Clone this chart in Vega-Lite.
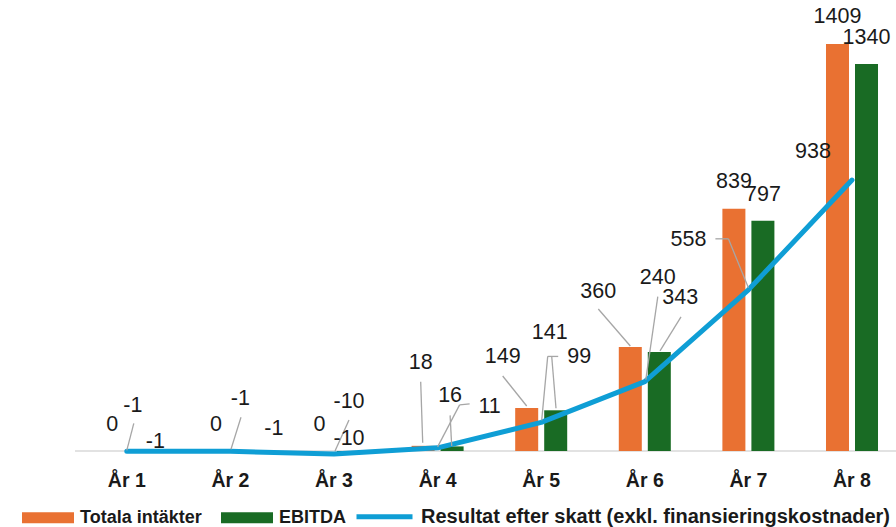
{
"$schema": "https://vega.github.io/schema/vega-lite/v6.json",
"autosize": "none",
"width": 821,
"height": 439.1,
"padding": {"left": 75, "top": 17.7, "right": 0, "bottom": 70.2},
"background": "white",
"config": {"view": {"stroke": null}, "font": "Liberation Sans"},
"datasets": {"d": [
{"year": "År 1", "serie": "Totala intäkter", "k": "T", "value": 0},
{"year": "År 1", "serie": "EBITDA", "k": "E", "value": -1},
{"year": "År 1", "serie": "Resultat efter skatt (exkl. finansieringskostnader)", "k": "R", "value": -1},
{"year": "År 2", "serie": "Totala intäkter", "k": "T", "value": 0},
{"year": "År 2", "serie": "EBITDA", "k": "E", "value": -1},
{"year": "År 2", "serie": "Resultat efter skatt (exkl. finansieringskostnader)", "k": "R", "value": -1},
{"year": "År 3", "serie": "Totala intäkter", "k": "T", "value": 0},
{"year": "År 3", "serie": "EBITDA", "k": "E", "value": -10},
{"year": "År 3", "serie": "Resultat efter skatt (exkl. finansieringskostnader)", "k": "R", "value": -10},
{"year": "År 4", "serie": "Totala intäkter", "k": "T", "value": 18},
{"year": "År 4", "serie": "EBITDA", "k": "E", "value": 16},
{"year": "År 4", "serie": "Resultat efter skatt (exkl. finansieringskostnader)", "k": "R", "value": 11},
{"year": "År 5", "serie": "Totala intäkter", "k": "T", "value": 149},
{"year": "År 5", "serie": "EBITDA", "k": "E", "value": 141},
{"year": "År 5", "serie": "Resultat efter skatt (exkl. finansieringskostnader)", "k": "R", "value": 99},
{"year": "År 6", "serie": "Totala intäkter", "k": "T", "value": 360},
{"year": "År 6", "serie": "EBITDA", "k": "E", "value": 343},
{"year": "År 6", "serie": "Resultat efter skatt (exkl. finansieringskostnader)", "k": "R", "value": 240},
{"year": "År 7", "serie": "Totala intäkter", "k": "T", "value": 839},
{"year": "År 7", "serie": "EBITDA", "k": "E", "value": 797},
{"year": "År 7", "serie": "Resultat efter skatt (exkl. finansieringskostnader)", "k": "R", "value": 558},
{"year": "År 8", "serie": "Totala intäkter", "k": "T", "value": 1409},
{"year": "År 8", "serie": "EBITDA", "k": "E", "value": 1340},
{"year": "År 8", "serie": "Resultat efter skatt (exkl. finansieringskostnader)", "k": "R", "value": 938}
]},
"data": {"name": "d"},
"layer": [
{"data": {"values": [{}]}, "mark": {"type": "rule", "color": "#d9d9d9", "strokeWidth": 1.5}, "encoding": {"y": {"datum": 0, "type": "quantitative", "scale": {"domain": [-20, 1500], "nice": false, "zero": false}, "axis": null}}},
{"transform": [{"filter": "datum.k!='R'"}], "mark": {"type": "bar"},
 "encoding": {
  "x": {"field": "year", "type": "ordinal", "title": null,
        "scale": {"type": "band", "range": [0, 828.8], "paddingInner": 0.44, "paddingOuter": 0.22},
        "axis": {"domain": false, "ticks": false, "tickSize": 0, "grid": false, "labelAngle": 0, "labelFont": "Liberation Sans", "labelFontWeight": "bold", "labelFontSize": 19.5, "labelColor": "#1a1a1a", "labelBaseline": "alphabetic", "labelPadding": 30}},
  "xOffset": {"field": "serie", "type": "nominal", "sort": ["Totala intäkter", "EBITDA"], "scale": {"paddingInner": 0.207, "paddingOuter": 0.1035}},
  "y": {"field": "value", "type": "quantitative", "scale": {"domain": [-20, 1500], "nice": false, "zero": false}, "axis": null},
  "color": {"field": "serie", "type": "nominal", "sort": ["Totala intäkter", "EBITDA"],
            "scale": {"domain": ["Totala intäkter", "EBITDA"], "range": ["#E97132", "#196B24"]},
            "legend": {"title": null, "orient": "none", "legendX": -53, "legendY": 474, "direction": "horizontal", "symbolType": "M-1,-0.21H1V0.21H-1Z", "symbolSize": 2704, "symbolStrokeWidth": 0, "labelFont": "Liberation Sans", "labelFontWeight": "bold", "labelFontSize": 18, "labelColor": "#1a1a1a", "labelOffset": 6, "columnPadding": 19, "padding": 0, "labelLimit": 1000}}
 }},
{"transform": [{"filter": "datum.k=='R'"}], "mark": {"type": "line", "strokeWidth": 5, "strokeCap": "round", "strokeJoin": "round"},
 "encoding": {
  "x": {"field": "year", "type": "ordinal", "bandPosition": 0.5},
  "y": {"field": "value", "type": "quantitative"},
  "stroke": {"field": "serie", "type": "nominal", "scale": {"range": ["#0F9ED5"]},
             "legend": {"title": null, "orient": "none", "legendX": 279, "legendY": 468.5, "symbolType": "stroke", "symbolSize": 3136, "symbolStrokeWidth": 5, "labelFont": "Liberation Sans", "labelFontWeight": "bold", "labelFontSize": 20, "labelColor": "#1a1a1a", "labelOffset": 6, "padding": 0, "labelLimit": 1000}}
 }},
{"transform": [{"filter": "datum.k=='R'&&datum.year=='År 1'"}], "mark": {"type": "rule", "color": "#a6a6a6", "strokeWidth": 1.3, "xOffset": 0, "yOffset": -1, "x2Offset": 7, "y2Offset": -28}, "encoding": {"x": {"field": "year", "type": "ordinal", "bandPosition": 0.5}, "x2": {"field": "year", "bandPosition": 0.5}, "y": {"field": "value", "type": "quantitative"}, "y2": {"field": "value"}}},
{"transform": [{"filter": "datum.k=='R'&&datum.year=='År 2'"}], "mark": {"type": "rule", "color": "#a6a6a6", "strokeWidth": 1.3, "xOffset": 0.6, "yOffset": -2, "x2Offset": 10.6, "y2Offset": -34}, "encoding": {"x": {"field": "year", "type": "ordinal", "bandPosition": 0.5}, "x2": {"field": "year", "bandPosition": 0.5}, "y": {"field": "value", "type": "quantitative"}, "y2": {"field": "value"}}},
{"transform": [{"filter": "datum.k=='R'&&datum.year=='År 3'"}], "mark": {"type": "rule", "color": "#a6a6a6", "strokeWidth": 1.3, "xOffset": 1, "yOffset": -3, "x2Offset": 15, "y2Offset": -34}, "encoding": {"x": {"field": "year", "type": "ordinal", "bandPosition": 0.5}, "x2": {"field": "year", "bandPosition": 0.5}, "y": {"field": "value", "type": "quantitative"}, "y2": {"field": "value"}}},
{"transform": [{"filter": "datum.k=='R'&&datum.year=='År 4'"}], "mark": {"type": "rule", "color": "#a6a6a6", "strokeWidth": 1.3, "xOffset": 0, "yOffset": -1, "x2Offset": 22, "y2Offset": -43}, "encoding": {"x": {"field": "year", "type": "ordinal", "bandPosition": 0.5}, "x2": {"field": "year", "bandPosition": 0.5}, "y": {"field": "value", "type": "quantitative"}, "y2": {"field": "value"}}},
{"transform": [{"filter": "datum.k=='R'&&datum.year=='År 4'"}], "mark": {"type": "rule", "color": "#a6a6a6", "strokeWidth": 1.3, "xOffset": 22, "yOffset": -43, "x2Offset": 32, "y2Offset": -44}, "encoding": {"x": {"field": "year", "type": "ordinal", "bandPosition": 0.5}, "x2": {"field": "year", "bandPosition": 0.5}, "y": {"field": "value", "type": "quantitative"}, "y2": {"field": "value"}}},
{"transform": [{"filter": "datum.k=='R'&&datum.year=='År 5'"}], "mark": {"type": "rule", "color": "#a6a6a6", "strokeWidth": 1.3, "xOffset": 0.5, "yOffset": -2, "x2Offset": 6.5, "y2Offset": -66}, "encoding": {"x": {"field": "year", "type": "ordinal", "bandPosition": 0.5}, "x2": {"field": "year", "bandPosition": 0.5}, "y": {"field": "value", "type": "quantitative"}, "y2": {"field": "value"}}},
{"transform": [{"filter": "datum.k=='R'&&datum.year=='År 5'"}], "mark": {"type": "rule", "color": "#a6a6a6", "strokeWidth": 1.3, "xOffset": 6.5, "yOffset": -66, "x2Offset": 17, "y2Offset": -66}, "encoding": {"x": {"field": "year", "type": "ordinal", "bandPosition": 0.5}, "x2": {"field": "year", "bandPosition": 0.5}, "y": {"field": "value", "type": "quantitative"}, "y2": {"field": "value"}}},
{"transform": [{"filter": "datum.k=='R'&&datum.year=='År 6'"}], "mark": {"type": "rule", "color": "#a6a6a6", "strokeWidth": 1.3, "xOffset": 1, "yOffset": -2, "x2Offset": 13, "y2Offset": -85}, "encoding": {"x": {"field": "year", "type": "ordinal", "bandPosition": 0.5}, "x2": {"field": "year", "bandPosition": 0.5}, "y": {"field": "value", "type": "quantitative"}, "y2": {"field": "value"}}},
{"transform": [{"filter": "datum.k=='R'&&datum.year=='År 7'"}], "mark": {"type": "rule", "color": "#a6a6a6", "strokeWidth": 1.3, "xOffset": 0, "yOffset": -2, "x2Offset": -20, "y2Offset": -51}, "encoding": {"x": {"field": "year", "type": "ordinal", "bandPosition": 0.5}, "x2": {"field": "year", "bandPosition": 0.5}, "y": {"field": "value", "type": "quantitative"}, "y2": {"field": "value"}}},
{"transform": [{"filter": "datum.k=='R'&&datum.year=='År 7'"}], "mark": {"type": "rule", "color": "#a6a6a6", "strokeWidth": 1.3, "xOffset": -20, "yOffset": -51, "x2Offset": -33, "y2Offset": -51}, "encoding": {"x": {"field": "year", "type": "ordinal", "bandPosition": 0.5}, "x2": {"field": "year", "bandPosition": 0.5}, "y": {"field": "value", "type": "quantitative"}, "y2": {"field": "value"}}},
{"transform": [{"filter": "datum.k=='T'&&datum.year=='År 4'"}], "mark": {"type": "rule", "color": "#a6a6a6", "strokeWidth": 1.3, "xOffset": -14.9, "yOffset": -3, "x2Offset": -16.9, "y2Offset": -64}, "encoding": {"x": {"field": "year", "type": "ordinal", "bandPosition": 0.5}, "x2": {"field": "year", "bandPosition": 0.5}, "y": {"field": "value", "type": "quantitative"}, "y2": {"field": "value"}}},
{"transform": [{"filter": "datum.k=='T'&&datum.year=='År 5'"}], "mark": {"type": "rule", "color": "#a6a6a6", "strokeWidth": 1.3, "xOffset": -38.5, "yOffset": -32, "x2Offset": -14.5, "y2Offset": -2}, "encoding": {"x": {"field": "year", "type": "ordinal", "bandPosition": 0.5}, "x2": {"field": "year", "bandPosition": 0.5}, "y": {"field": "value", "type": "quantitative"}, "y2": {"field": "value"}}},
{"transform": [{"filter": "datum.k=='T'&&datum.year=='År 6'"}], "mark": {"type": "rule", "color": "#a6a6a6", "strokeWidth": 1.3, "xOffset": -46.5, "yOffset": -38, "x2Offset": -14.5, "y2Offset": -1}, "encoding": {"x": {"field": "year", "type": "ordinal", "bandPosition": 0.5}, "x2": {"field": "year", "bandPosition": 0.5}, "y": {"field": "value", "type": "quantitative"}, "y2": {"field": "value"}}},
{"transform": [{"filter": "datum.k=='E'&&datum.year=='År 4'"}], "mark": {"type": "rule", "color": "#a6a6a6", "strokeWidth": 1.3, "xOffset": 14.1, "yOffset": -0.4, "x2Offset": 12.5, "y2Offset": -31}, "encoding": {"x": {"field": "year", "type": "ordinal", "bandPosition": 0.5}, "x2": {"field": "year", "bandPosition": 0.5}, "y": {"field": "value", "type": "quantitative"}, "y2": {"field": "value"}}},
{"transform": [{"filter": "datum.k=='E'&&datum.year=='År 5'"}], "mark": {"type": "rule", "color": "#a6a6a6", "strokeWidth": 1.3, "xOffset": 10.5, "yOffset": -54, "x2Offset": 14.8, "y2Offset": -2}, "encoding": {"x": {"field": "year", "type": "ordinal", "bandPosition": 0.5}, "x2": {"field": "year", "bandPosition": 0.5}, "y": {"field": "value", "type": "quantitative"}, "y2": {"field": "value"}}},
{"transform": [{"filter": "datum.k=='E'&&datum.year=='År 6'"}], "mark": {"type": "rule", "color": "#a6a6a6", "strokeWidth": 1.3, "xOffset": 36.2, "yOffset": -35, "x2Offset": 15.2, "y2Offset": -1}, "encoding": {"x": {"field": "year", "type": "ordinal", "bandPosition": 0.5}, "x2": {"field": "year", "bandPosition": 0.5}, "y": {"field": "value", "type": "quantitative"}, "y2": {"field": "value"}}},
{"transform": [{"filter": "datum.k=='T'&&indexof(['År 1','År 2','År 3','År 7','År 8'],datum.year)>=0"}], "mark": {"type": "text", "fontSize": 21.5, "color": "#1a1a1a", "baseline": "middle", "align": "center", "dx": -14.5, "dy": -26.5}, "encoding": {"x": {"field": "year", "type": "ordinal", "bandPosition": 0.5}, "y": {"field": "value", "type": "quantitative"}, "text": {"field": "value", "type": "nominal"}}},
{"transform": [{"filter": "datum.k=='T'&&datum.year=='År 4'"}], "mark": {"type": "text", "fontSize": 21.5, "color": "#1a1a1a", "baseline": "middle", "align": "center", "dx": -16.9, "dy": -83}, "encoding": {"x": {"field": "year", "type": "ordinal", "bandPosition": 0.5}, "y": {"field": "value", "type": "quantitative"}, "text": {"field": "value", "type": "nominal"}}},
{"transform": [{"filter": "datum.k=='T'&&datum.year=='År 5'"}], "mark": {"type": "text", "fontSize": 21.5, "color": "#1a1a1a", "baseline": "middle", "align": "center", "dx": -38.5, "dy": -51}, "encoding": {"x": {"field": "year", "type": "ordinal", "bandPosition": 0.5}, "y": {"field": "value", "type": "quantitative"}, "text": {"field": "value", "type": "nominal"}}},
{"transform": [{"filter": "datum.k=='T'&&datum.year=='År 6'"}], "mark": {"type": "text", "fontSize": 21.5, "color": "#1a1a1a", "baseline": "middle", "align": "center", "dx": -46.5, "dy": -55}, "encoding": {"x": {"field": "year", "type": "ordinal", "bandPosition": 0.5}, "y": {"field": "value", "type": "quantitative"}, "text": {"field": "value", "type": "nominal"}}},
{"transform": [{"filter": "datum.k=='E'&&(datum.year=='År 7'||datum.year=='År 8')"}], "mark": {"type": "text", "fontSize": 21.5, "color": "#1a1a1a", "baseline": "middle", "align": "center", "dx": 14.5, "dy": -25.5}, "encoding": {"x": {"field": "year", "type": "ordinal", "bandPosition": 0.5}, "y": {"field": "value", "type": "quantitative"}, "text": {"field": "value", "type": "nominal"}}},
{"transform": [{"filter": "datum.k=='E'&&datum.year=='År 1'"}], "mark": {"type": "text", "fontSize": 21.5, "color": "#1a1a1a", "baseline": "middle", "align": "center", "dx": 28.5, "dy": -9}, "encoding": {"x": {"field": "year", "type": "ordinal", "bandPosition": 0.5}, "y": {"field": "value", "type": "quantitative"}, "text": {"field": "value", "type": "nominal"}}},
{"transform": [{"filter": "datum.k=='E'&&datum.year=='År 2'"}], "mark": {"type": "text", "fontSize": 21.5, "color": "#1a1a1a", "baseline": "middle", "align": "center", "dx": 43.5, "dy": -22}, "encoding": {"x": {"field": "year", "type": "ordinal", "bandPosition": 0.5}, "y": {"field": "value", "type": "quantitative"}, "text": {"field": "value", "type": "nominal"}}},
{"transform": [{"filter": "datum.k=='E'&&datum.year=='År 3'"}], "mark": {"type": "text", "fontSize": 21.5, "color": "#1a1a1a", "baseline": "middle", "align": "center", "dx": 15, "dy": -15}, "encoding": {"x": {"field": "year", "type": "ordinal", "bandPosition": 0.5}, "y": {"field": "value", "type": "quantitative"}, "text": {"field": "value", "type": "nominal"}}},
{"transform": [{"filter": "datum.k=='E'&&datum.year=='År 4'"}], "mark": {"type": "text", "fontSize": 21.5, "color": "#1a1a1a", "baseline": "middle", "align": "center", "dx": 12.5, "dy": -50}, "encoding": {"x": {"field": "year", "type": "ordinal", "bandPosition": 0.5}, "y": {"field": "value", "type": "quantitative"}, "text": {"field": "value", "type": "nominal"}}},
{"transform": [{"filter": "datum.k=='E'&&datum.year=='År 5'"}], "mark": {"type": "text", "fontSize": 21.5, "color": "#1a1a1a", "baseline": "middle", "align": "center", "dx": 8.5, "dy": -77}, "encoding": {"x": {"field": "year", "type": "ordinal", "bandPosition": 0.5}, "y": {"field": "value", "type": "quantitative"}, "text": {"field": "value", "type": "nominal"}}},
{"transform": [{"filter": "datum.k=='E'&&datum.year=='År 6'"}], "mark": {"type": "text", "fontSize": 21.5, "color": "#1a1a1a", "baseline": "middle", "align": "center", "dx": 35.5, "dy": -54}, "encoding": {"x": {"field": "year", "type": "ordinal", "bandPosition": 0.5}, "y": {"field": "value", "type": "quantitative"}, "text": {"field": "value", "type": "nominal"}}},
{"transform": [{"filter": "datum.k=='R'&&datum.year=='År 1'"}], "mark": {"type": "text", "fontSize": 21.5, "color": "#1a1a1a", "baseline": "middle", "align": "center", "dx": 6, "dy": -45}, "encoding": {"x": {"field": "year", "type": "ordinal", "bandPosition": 0.5}, "y": {"field": "value", "type": "quantitative"}, "text": {"field": "value", "type": "nominal"}}},
{"transform": [{"filter": "datum.k=='R'&&datum.year=='År 2'"}], "mark": {"type": "text", "fontSize": 21.5, "color": "#1a1a1a", "baseline": "middle", "align": "center", "dx": 10, "dy": -52}, "encoding": {"x": {"field": "year", "type": "ordinal", "bandPosition": 0.5}, "y": {"field": "value", "type": "quantitative"}, "text": {"field": "value", "type": "nominal"}}},
{"transform": [{"filter": "datum.k=='R'&&datum.year=='År 3'"}], "mark": {"type": "text", "fontSize": 21.5, "color": "#1a1a1a", "baseline": "middle", "align": "center", "dx": 15, "dy": -52}, "encoding": {"x": {"field": "year", "type": "ordinal", "bandPosition": 0.5}, "y": {"field": "value", "type": "quantitative"}, "text": {"field": "value", "type": "nominal"}}},
{"transform": [{"filter": "datum.k=='R'&&datum.year=='År 4'"}], "mark": {"type": "text", "fontSize": 21.5, "color": "#1a1a1a", "baseline": "middle", "align": "center", "dx": 52, "dy": -41}, "encoding": {"x": {"field": "year", "type": "ordinal", "bandPosition": 0.5}, "y": {"field": "value", "type": "quantitative"}, "text": {"field": "value", "type": "nominal"}}},
{"transform": [{"filter": "datum.k=='R'&&datum.year=='År 5'"}], "mark": {"type": "text", "fontSize": 21.5, "color": "#1a1a1a", "baseline": "middle", "align": "center", "dx": 38, "dy": -65}, "encoding": {"x": {"field": "year", "type": "ordinal", "bandPosition": 0.5}, "y": {"field": "value", "type": "quantitative"}, "text": {"field": "value", "type": "nominal"}}},
{"transform": [{"filter": "datum.k=='R'&&datum.year=='År 6'"}], "mark": {"type": "text", "fontSize": 21.5, "color": "#1a1a1a", "baseline": "middle", "align": "center", "dx": 13, "dy": -104}, "encoding": {"x": {"field": "year", "type": "ordinal", "bandPosition": 0.5}, "y": {"field": "value", "type": "quantitative"}, "text": {"field": "value", "type": "nominal"}}},
{"transform": [{"filter": "datum.k=='R'&&datum.year=='År 7'"}], "mark": {"type": "text", "fontSize": 21.5, "color": "#1a1a1a", "baseline": "middle", "align": "center", "dx": -60, "dy": -50}, "encoding": {"x": {"field": "year", "type": "ordinal", "bandPosition": 0.5}, "y": {"field": "value", "type": "quantitative"}, "text": {"field": "value", "type": "nominal"}}},
{"transform": [{"filter": "datum.k=='R'&&datum.year=='År 8'"}], "mark": {"type": "text", "fontSize": 21.5, "color": "#1a1a1a", "baseline": "middle", "align": "center", "dx": -39, "dy": -28}, "encoding": {"x": {"field": "year", "type": "ordinal", "bandPosition": 0.5}, "y": {"field": "value", "type": "quantitative"}, "text": {"field": "value", "type": "nominal"}}}
]
}
